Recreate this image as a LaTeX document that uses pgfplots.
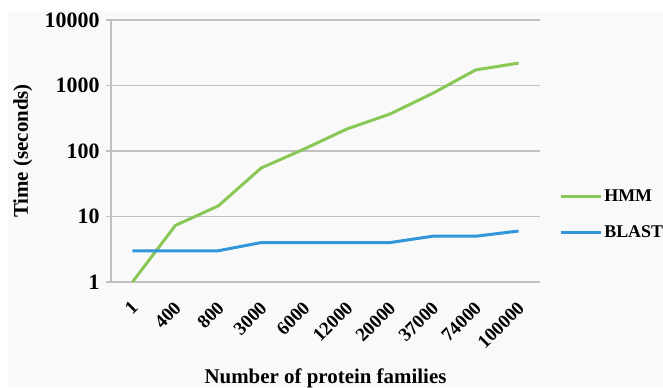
\documentclass[border=0pt]{standalone}
\usepackage{fontspec}
\setmainfont{Liberation Serif}
\usepackage{pgfplots}
\pgfplotsset{compat=1.18}
\definecolor{hmmgreen}{RGB}{137,199,86}
\definecolor{blastblue}{RGB}{49,150,218}
\definecolor{gridgray}{RGB}{192,192,192}
\definecolor{bgcol}{RGB}{249,249,249}
\begin{document}
\begin{tikzpicture}[x=1bp,y=1bp]
\path[use as bounding box] (0,0) rectangle (663,387);
\fill[bgcol] (8,0) rectangle (663,376);
\begin{axis}[
  at={(111bp,105bp)}, anchor=south west,
  scale only axis, width=429bp, height=262bp,
  ymode=log, ymin=1, ymax=10000,
  xmin=-0.5, xmax=9.5,
  axis x line*=bottom, axis y line*=left,
  axis line style={draw=gridgray, line width=1.2bp},
  xtick={0,...,9},
  xticklabels={1,400,800,3000,6000,12000,20000,37000,74000,100000},
  major x tick style={draw=none},
  extra x ticks={-0.5,0.5,...,9.5},
  extra x tick labels={},
  extra x tick style={grid=none, major tick length=5bp,
    tick style={draw=gridgray, line width=1.2bp}},
  ytick={1,10,100,1000,10000},
  yticklabels={1,10,100,1000,10000},
  yminorticks=false,
  major y tick style={draw=gridgray, line width=1.2bp},
  major tick length=5bp,
  tick align=outside,
  ymajorgrids, grid style={draw=gridgray, line width=1.2bp},
  yticklabel style={font=\bfseries\fontsize{22}{26}\selectfont, xshift=-3bp},
  xticklabel style={font=\bfseries\fontsize{19}{23}\selectfont,
    rotate=45, anchor=north east, xshift=-7.5bp, yshift=-4.5bp},
  xlabel={Number of protein families},
  ylabel={Time (seconds)},
  label style={font=\bfseries\fontsize{21}{25}\selectfont},
  xlabel style={at={(0.5,0)}, anchor=base, yshift=-101bp},
  ylabel style={at={(0,0.5)}, anchor=base, yshift=111bp-28bp},
  legend style={at={(1.045,0.258)}, anchor=west, draw=none, fill=none,
    font=\bfseries\fontsize{18}{21}\selectfont, row sep=19bp,
    inner sep=0pt, outer sep=0pt},
  legend cell align=left,
  legend image code/.code={\draw[#1, line width=3bp] (0bp,0bp) -- (40bp,0bp);},
  clip=false,
]
\addplot[hmmgreen, line width=3bp] coordinates {
  (0,1) (1,7.3) (2,14.5) (3,55) (4,107) (5,217) (6,366) (7,760) (8,1730) (9,2200)};
\addlegendentry{HMM}
\addplot[blastblue, line width=3bp] coordinates {
  (0,3) (1,3) (2,3) (3,4) (4,4) (5,4) (6,4) (7,5) (8,5) (9,6)};
\addlegendentry{BLAST}
\end{axis}
\end{tikzpicture}
\end{document}
